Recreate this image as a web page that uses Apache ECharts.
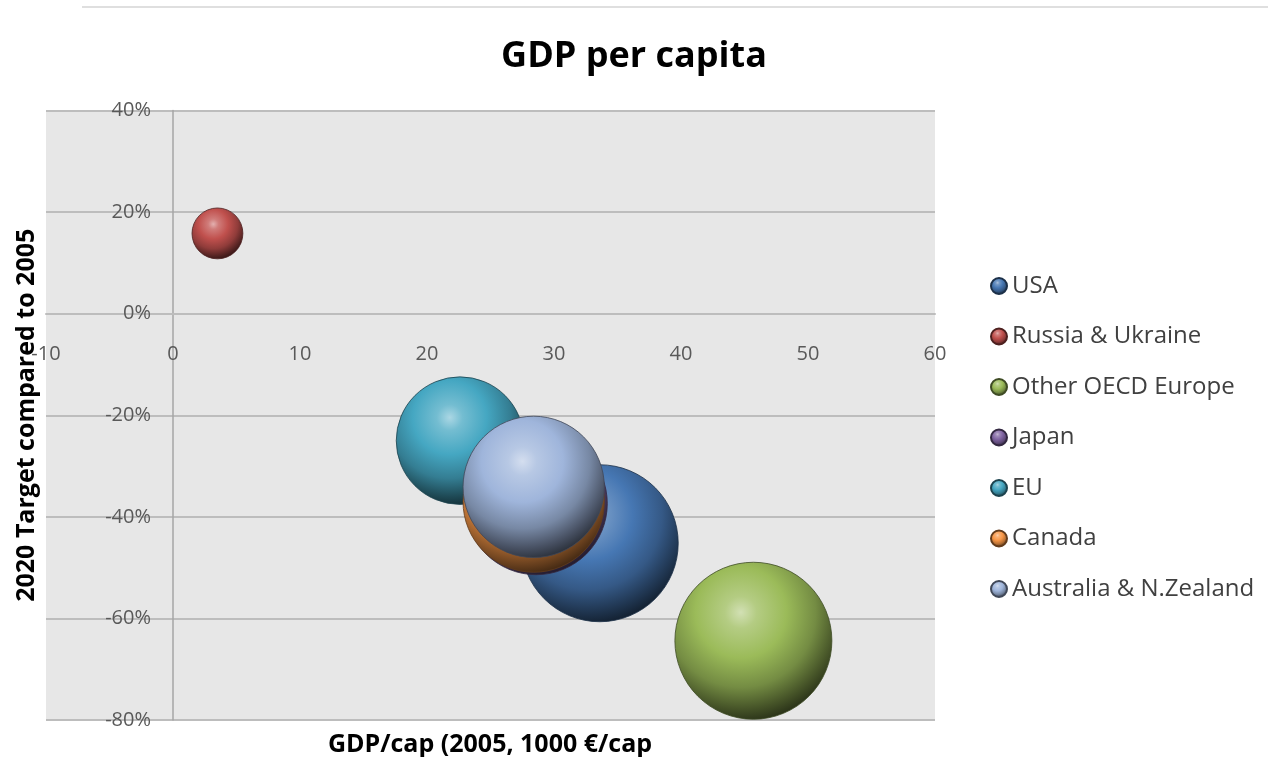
<!DOCTYPE html>
<html>
<head>
<meta charset="utf-8">
<title>GDP per capita</title>
<script src="https://cdn.jsdelivr.net/npm/echarts@6/dist/echarts.min.js"></script>
<style>
  html, body { margin: 0; padding: 0; background: #ffffff; }
  #chart { width: 1268px; height: 757px; }
</style>
</head>
<body>
<div id="chart"></div>
<script>
// Regions, GDP per capita (2005, 1000 €/cap) and 2020 emission target vs 2005 (%)
const countries = ['USA', 'Russia & Ukraine', 'Other OECD Europe', 'Japan', 'EU', 'Canada', 'Australia & N.Zealand'];
const gdpPerCap = [33.6, 3.5, 45.7, 28.6, 22.6, 28.4, 28.4];
const target2020 = [-45.2, 15.8, -64.4, -37.4, -25.0, -37.0, -34.1];
const bubbleSize = [100, 10.5, 100, 82, 66, 81, 81];

const xTicks = { min: -10, max: 60, step: 10 };
const yTicks = { min: -80, max: 40, step: 20 };

const baseColors = ['#4677b3', '#c0504d', '#9bbb59', '#8064a2', '#45a7c2', '#f79646', '#9fb5db'];

// Plot rectangle inside the 1268x757 canvas
const GRID = { left: 46, right: 333, top: 110.5, bottom: 37 };
const plotW = 1268 - GRID.left - GRID.right;
const plotH = 757 - GRID.top - GRID.bottom;
// Axes cross at zero: shift each axis (line + labels) from the plot edge to the zero of the other axis
const yAxisShift = -((0 - xTicks.min) / (xTicks.max - xTicks.min)) * plotW;
const xAxisShift = -((0 - yTicks.min) / (yTicks.max - yTicks.min)) * plotH;

function mix(hex, target, t) {
  const a = parseInt(hex.slice(1), 16);
  const b = parseInt(target.slice(1), 16);
  const ch = (v, s) => (v >> s) & 255;
  const r = Math.round(ch(a, 16) + (ch(b, 16) - ch(a, 16)) * t);
  const g = Math.round(ch(a, 8) + (ch(b, 8) - ch(a, 8)) * t);
  const bl = Math.round(ch(a, 0) + (ch(b, 0) - ch(a, 0)) * t);
  return 'rgb(' + r + ',' + g + ',' + bl + ')';
}

// Glossy sphere shading for each bubble
function sphere(base) {
  return {
    type: 'radial', x: 0.42, y: 0.32, r: 0.72,
    colorStops: [
      { offset: 0, color: mix(base, '#ffffff', 0.55) },
      { offset: 0.14, color: mix(base, '#ffffff', 0.25) },
      { offset: 0.4, color: base },
      { offset: 0.66, color: mix(base, '#000000', 0.25) },
      { offset: 0.85, color: mix(base, '#000000', 0.55) },
      { offset: 1, color: mix(base, '#000000', 0.78) }
    ]
  };
}

const FONT = 'Open Sans';
const chart = echarts.init(document.getElementById('chart'), null, { renderer: 'canvas' });

const series = countries.map((name, i) => ({
  name: name,
  type: 'scatter',
  data: [[gdpPerCap[i], target2020[i], bubbleSize[i]]],
  symbolSize: d => 15.7 * Math.sqrt(d[2]),
  itemStyle: {
    color: sphere(baseColors[i]),
    borderColor: mix(baseColors[i], '#000000', 0.6),
    borderWidth: 0.8,
    opacity: 1
  },
  emphasis: { disabled: true },
  animation: false
}));

chart.setOption({
  animation: false,
  title: {
    text: 'GDP per capita',
    left: 'center',
    top: 34,
    textStyle: { fontFamily: FONT, fontSize: 36, fontWeight: 'bold', color: '#000000' }
  },
  legend: {
    orient: 'vertical',
    left: 985,
    top: 269,
    itemWidth: 16,
    itemHeight: 17,
    itemGap: 26.5,
    icon: 'circle',
    data: countries,
    selectedMode: false,
    textStyle: { fontFamily: FONT, fontSize: 24, lineHeight: 24, color: '#404040' }
  },
  grid: {
    left: GRID.left, right: GRID.right, top: GRID.top, bottom: GRID.bottom,
    show: true, backgroundColor: '#e7e7e7', borderWidth: 0,
    outerBoundsMode: 'none',
    containLabel: false
  },
  xAxis: {
    type: 'value',
    min: xTicks.min, max: xTicks.max, interval: xTicks.step,
    position: 'bottom',
    offset: xAxisShift,
    axisLine: { show: true, onZero: false, lineStyle: { color: '#bdbdbd', width: 2 } },
    axisTick: { show: false },
    splitLine: { show: false },
    axisLabel: { margin: 31, fontFamily: FONT, fontSize: 20, color: '#595959', hideOverlap: false }
  },
  yAxis: {
    type: 'value',
    min: yTicks.min, max: yTicks.max, interval: yTicks.step,
    position: 'left',
    offset: yAxisShift,
    name: '2020 Target compared to 2005',
    nameLocation: 'middle',
    nameGap: 133.5,
    nameRotate: 90,
    nameMoveOverlap: false,
    nameTextStyle: { fontFamily: FONT, fontSize: 25, fontWeight: 'bold', color: '#000000' },
    axisLine: { show: true, onZero: false, lineStyle: { color: '#a6a6a6', width: 1.5 } },
    axisTick: { show: false },
    splitLine: { show: true, lineStyle: { color: '#bdbdbd', width: 2 } },
    axisLabel: { margin: 22, fontFamily: FONT, fontSize: 20, color: '#595959', formatter: '{value}%', hideOverlap: false }
  },
  graphic: [
    {
      type: 'line',
      shape: { x1: 82, y1: 7, x2: 1268, y2: 7 },
      style: { stroke: '#d4d4d4', lineWidth: 1.5 },
      silent: true
    },
    {
      type: 'text',
      x: 490, y: 745,
      style: {
        text: 'GDP/cap (2005, 1000 €/cap',
        fontFamily: FONT, fontSize: 25, fontWeight: 'bold', fill: '#000000',
        align: 'center', verticalAlign: 'middle'
      },
      silent: true
    }
  ],
  series: series
});
</script>
</body>
</html>
